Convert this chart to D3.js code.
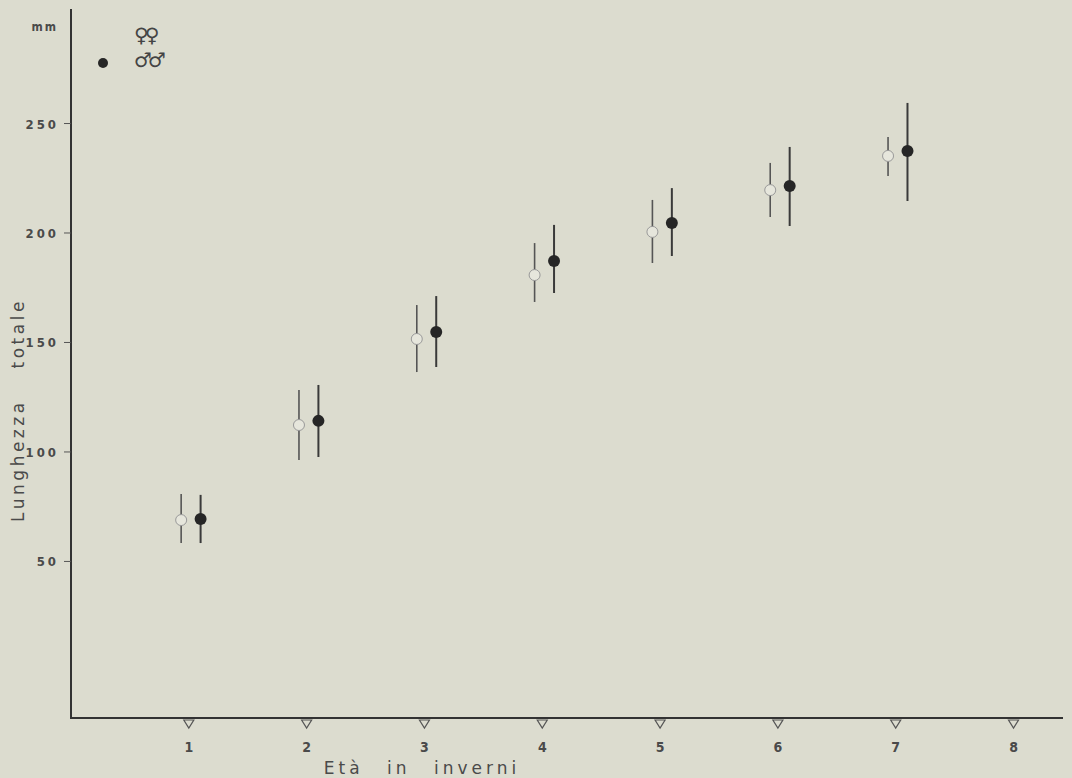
<!DOCTYPE html>
<html>
<head>
<meta charset="utf-8">
<script src="https://cdn.jsdelivr.net/npm/d3@7/dist/d3.min.js"></script>
<style>
  body { margin: 0; background: #dcdccf; }
  svg { display: block; }
  .tick-label { font-family: "DejaVu Sans Condensed", "Liberation Sans Narrow", sans-serif; font-weight: bold; fill: #4a4a4a; }
</style>
</head>
<body>
<div id="chart"></div>
<script>
// ages (winters)
const ages = [1, 2, 3, 4, 5, 6, 7];
const xTicks = [1, 2, 3, 4, 5, 6, 7, 8];
const yTicks = [50, 100, 150, 200, 250];

// females (open circles): mean, min, max (mm)
const femaleMean = [68.9, 112.3, 151.6, 180.8, 200.5, 219.6, 235.2];
const femaleLow = [58.4, 96.3, 136.5, 168.5, 186.3, 207.3, 226.0];
const femaleHigh = [80.8, 128.3, 167.1, 195.4, 215.1, 232.0, 243.8];

// males (filled circles): mean, min, max (mm)
const maleMean = [69.4, 114.2, 154.8, 187.2, 204.6, 221.5, 237.4];
const maleLow = [58.4, 97.7, 138.8, 172.6, 189.5, 203.2, 214.6];
const maleHigh = [80.4, 130.6, 171.2, 203.7, 220.5, 239.3, 259.4];

const width = 1072;
const height = 778;
const bg = '#dcdccf';

const svg = d3
  .select('#chart')
  .append('svg')
  .attr('width', width)
  .attr('height', height);

svg.append('rect').attr('width', width).attr('height', height).attr('fill', bg);

const x = d3.scaleLinear().domain([0, 8.42]).range([71, 1063]);
const y = d3.scaleLinear().domain([-21.5, 302.3]).range([718, 9]);

const females = ages.map((a, i) => ({ age: a, mean: femaleMean[i], lo: femaleLow[i], hi: femaleHigh[i] }));
const males = ages.map((a, i) => ({ age: a, mean: maleMean[i], lo: maleLow[i], hi: maleHigh[i] }));

const fOff = -0.065;
const mOff = 0.1;

// axes lines
svg.append('line')
  .attr('x1', x(0)).attr('x2', x(0))
  .attr('y1', y.range()[1]).attr('y2', y.range()[0])
  .attr('stroke', '#333').attr('stroke-width', 2);

svg.append('line')
  .attr('x1', x(0) - 1).attr('x2', x.range()[1])
  .attr('y1', y.range()[0]).attr('y2', y.range()[0])
  .attr('stroke', '#333').attr('stroke-width', 2);

// y ticks
const yAxis = svg.append('g');
yAxis.selectAll('line')
  .data(yTicks)
  .enter()
  .append('line')
  .attr('x1', x(0) - 7)
  .attr('x2', x(0))
  .attr('y1', (d) => y(d))
  .attr('y2', (d) => y(d))
  .attr('stroke', '#555')
  .attr('stroke-width', 1);

yAxis.selectAll('text')
  .data(yTicks)
  .enter()
  .append('text')
  .attr('class', 'tick-label')
  .attr('x', x(0) - 12)
  .attr('y', (d) => y(d) + 5)
  .attr('text-anchor', 'end')
  .style('font-size', '13px')
  .style('letter-spacing', '3px')
  .text(String);

svg.append('text')
  .attr('class', 'tick-label')
  .attr('x', 58)
  .attr('y', 31)
  .attr('text-anchor', 'end')
  .style('font-size', '12px')
  .style('letter-spacing', '2px')
  .text('mm');

// x ticks: small open triangles below the axis
const xAxis = svg.append('g');
xAxis.selectAll('path')
  .data(xTicks)
  .enter()
  .append('path')
  .attr('d', (d) => {
    const cx = x(d);
    const top = y.range()[0] + 2;
    return `M${cx - 5},${top} L${cx + 5},${top} L${cx},${top + 8} Z`;
  })
  .attr('fill', bg)
  .attr('stroke', '#555')
  .attr('stroke-width', 1.2);

xAxis.selectAll('text')
  .data(xTicks)
  .enter()
  .append('text')
  .attr('class', 'tick-label')
  .attr('x', (d) => x(d))
  .attr('y', 752)
  .attr('text-anchor', 'middle')
  .style('font-size', '14px')
  .text(String);

// axis titles
svg.append('text')
  .attr('x', 422)
  .attr('y', 774)
  .attr('text-anchor', 'middle')
  .style('font-family', '"DejaVu Sans", sans-serif')
  .style('font-size', '17px')
  .style('letter-spacing', '4px')
  .style('word-spacing', '14px')
  .attr('fill', '#4a4a4a')
  .text('Età in inverni');

svg.append('text')
  .attr('transform', 'translate(24,410) rotate(-90)')
  .attr('text-anchor', 'middle')
  .style('font-family', '"DejaVu Sans", sans-serif')
  .style('font-size', '17px')
  .style('letter-spacing', '3.5px')
  .style('word-spacing', '22px')
  .attr('fill', '#4a4a4a')
  .text('Lunghezza totale');

// female range bars + open circles
const fG = svg.append('g');
fG.selectAll('line')
  .data(females)
  .enter()
  .append('line')
  .attr('x1', (d) => x(d.age + fOff))
  .attr('x2', (d) => x(d.age + fOff))
  .attr('y1', (d) => y(d.hi))
  .attr('y2', (d) => y(d.lo))
  .attr('stroke', '#555')
  .attr('stroke-width', 1.6);

fG.selectAll('circle')
  .data(females)
  .enter()
  .append('circle')
  .attr('cx', (d) => x(d.age + fOff))
  .attr('cy', (d) => y(d.mean))
  .attr('r', 5.5)
  .attr('fill', '#e6e6dc')
  .attr('stroke', '#999')
  .attr('stroke-width', 1);

// male range bars + filled circles
const mG = svg.append('g');
mG.selectAll('line')
  .data(males)
  .enter()
  .append('line')
  .attr('x1', (d) => x(d.age + mOff))
  .attr('x2', (d) => x(d.age + mOff))
  .attr('y1', (d) => y(d.hi))
  .attr('y2', (d) => y(d.lo))
  .attr('stroke', '#3a3a3a')
  .attr('stroke-width', 2);

mG.selectAll('circle')
  .data(males)
  .enter()
  .append('circle')
  .attr('cx', (d) => x(d.age + mOff))
  .attr('cy', (d) => y(d.mean))
  .attr('r', 6)
  .attr('fill', '#262626');

// legend
svg.append('circle')
  .attr('cx', 103)
  .attr('cy', 63)
  .attr('r', 5)
  .attr('fill', '#262626');

svg.append('text')
  .attr('x', 134)
  .attr('y', 42)
  .style('font-family', '"DejaVu Sans", sans-serif')
  .style('font-size', '20px')
  .style('letter-spacing', '-4px')
  .attr('fill', '#444')
  .text('♀♀');

svg.append('text')
  .attr('x', 134)
  .attr('y', 67)
  .style('font-family', '"DejaVu Sans", sans-serif')
  .style('font-size', '20px')
  .style('letter-spacing', '-4px')
  .attr('fill', '#444')
  .text('♂♂');
</script>
</body>
</html>
